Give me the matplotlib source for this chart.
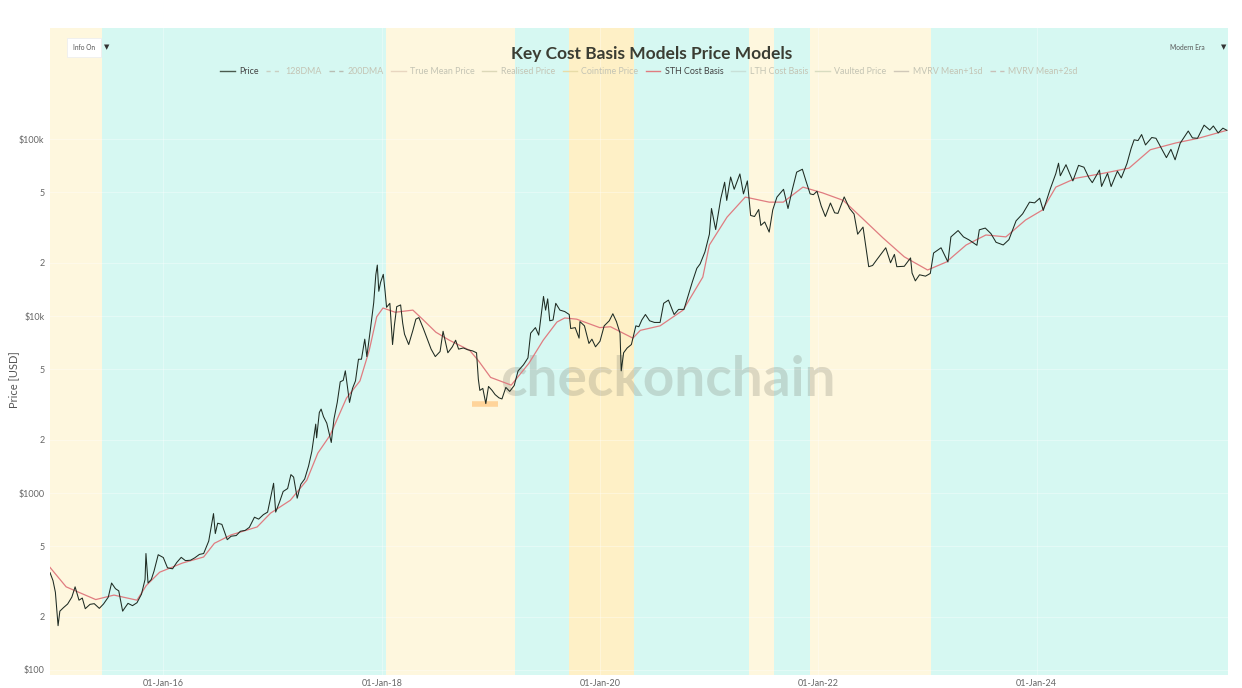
import matplotlib
matplotlib.use('Agg')
import matplotlib.pyplot as plt
import matplotlib.ticker as mticker
from matplotlib.lines import Line2D
import pandas as pd

# ---------------- data ----------------
price_series = [
    ("2014-12-18", 355), ("2014-12-28", 320), ("2015-01-05", 275), ("2015-01-14", 178),
    ("2015-01-20", 215), ("2015-02-01", 225), ("2015-02-15", 236), ("2015-03-01", 258),
    ("2015-03-12", 295), ("2015-03-25", 248), ("2015-04-05", 255), ("2015-04-15", 222),
    ("2015-05-01", 235), ("2015-05-15", 237), ("2015-06-01", 223), ("2015-06-15", 236),
    ("2015-07-01", 258), ("2015-07-12", 310), ("2015-07-25", 288), ("2015-08-05", 280),
    ("2015-08-18", 215), ("2015-08-25", 224), ("2015-09-05", 238), ("2015-09-20", 231),
    ("2015-10-05", 240), ("2015-10-20", 268), ("2015-11-01", 325), ("2015-11-04", 455),
    ("2015-11-11", 310), ("2015-11-22", 325), ("2015-12-01", 362), ("2015-12-15", 448),
    ("2016-01-01", 432), ("2016-01-15", 378), ("2016-02-01", 373), ("2016-02-15", 405),
    ("2016-03-01", 433), ("2016-03-15", 415), ("2016-04-01", 417), ("2016-04-15", 430),
    ("2016-05-01", 450), ("2016-05-15", 455), ("2016-06-01", 535), ("2016-06-17", 765),
    ("2016-06-23", 590), ("2016-07-01", 675), ("2016-07-15", 665), ("2016-08-02", 545),
    ("2016-08-15", 570), ("2016-09-01", 575), ("2016-09-15", 608), ("2016-10-01", 615),
    ("2016-10-15", 640), ("2016-11-01", 730), ("2016-11-15", 712), ("2016-12-01", 755),
    ("2016-12-15", 780), ("2017-01-04", 1135), ("2017-01-11", 780), ("2017-01-25", 900),
    ("2017-02-05", 1020), ("2017-02-20", 1060), ("2017-03-03", 1270), ("2017-03-12", 1230),
    ("2017-03-24", 935), ("2017-04-05", 1120), ("2017-04-18", 1200), ("2017-05-01", 1420),
    ("2017-05-12", 1720), ("2017-05-25", 2450), ("2017-05-28", 2050), ("2017-06-06", 2850),
    ("2017-06-12", 2980), ("2017-06-20", 2700), ("2017-07-01", 2480), ("2017-07-16", 1930),
    ("2017-07-25", 2620), ("2017-08-05", 3250), ("2017-08-15", 4250), ("2017-08-25", 4330),
    ("2017-09-01", 4900), ("2017-09-15", 3250), ("2017-09-25", 3900), ("2017-10-05", 4300),
    ("2017-10-15", 5700), ("2017-10-25", 5700), ("2017-11-05", 7400), ("2017-11-12", 5900),
    ("2017-11-25", 8700), ("2017-12-05", 11900), ("2017-12-12", 17100), ("2017-12-17", 19400),
    ("2017-12-22", 13800), ("2017-12-28", 15500), ("2018-01-06", 17200), ("2018-01-12", 13800),
    ("2018-01-17", 11200), ("2018-01-28", 11800), ("2018-02-06", 6900), ("2018-02-12", 8800),
    ("2018-02-20", 11300), ("2018-03-05", 11550), ("2018-03-12", 9100), ("2018-03-18", 7900),
    ("2018-04-01", 6900), ("2018-04-15", 8300), ("2018-04-25", 9600), ("2018-05-05", 9800),
    ("2018-05-20", 8500), ("2018-06-01", 7500), ("2018-06-15", 6500), ("2018-06-29", 5900),
    ("2018-07-15", 6300), ("2018-07-25", 8200), ("2018-08-10", 6200), ("2018-08-25", 6700),
    ("2018-09-05", 7300), ("2018-09-15", 6500), ("2018-10-01", 6600), ("2018-10-15", 6450),
    ("2018-11-01", 6350), ("2018-11-14", 6200), ("2018-11-20", 4400), ("2018-11-25", 3800),
    ("2018-12-05", 3900), ("2018-12-15", 3200), ("2018-12-24", 4000), ("2019-01-05", 3800),
    ("2019-01-15", 3600), ("2019-01-28", 3450), ("2019-02-07", 3400), ("2019-02-20", 3950),
    ("2019-03-05", 3750), ("2019-03-20", 4050), ("2019-04-02", 4900), ("2019-04-20", 5300),
    ("2019-05-05", 5800), ("2019-05-14", 8000), ("2019-05-30", 8600), ("2019-06-10", 7800),
    ("2019-06-26", 12900), ("2019-07-03", 10800), ("2019-07-10", 12500), ("2019-07-17", 9400),
    ("2019-07-28", 9500), ("2019-08-06", 11800), ("2019-08-20", 10800), ("2019-09-05", 10600),
    ("2019-09-20", 10200), ("2019-09-25", 8500), ("2019-10-10", 8600), ("2019-10-23", 7500),
    ("2019-10-26", 9300), ("2019-11-10", 8800), ("2019-11-25", 7000), ("2019-12-05", 7400),
    ("2019-12-17", 6700), ("2020-01-01", 7200), ("2020-01-15", 8800), ("2020-02-01", 9400),
    ("2020-02-13", 10300), ("2020-02-25", 9300), ("2020-03-08", 8000), ("2020-03-12", 4900),
    ("2020-03-20", 6200), ("2020-04-01", 6600), ("2020-04-15", 6900), ("2020-04-30", 8800),
    ("2020-05-10", 8700), ("2020-05-20", 9500), ("2020-06-01", 10200), ("2020-06-15", 9400),
    ("2020-07-01", 9200), ("2020-07-20", 9200), ("2020-08-01", 11800), ("2020-08-17", 12300),
    ("2020-09-05", 10200), ("2020-09-20", 10900), ("2020-10-08", 10900), ("2020-10-21", 12900),
    ("2020-11-05", 15600), ("2020-11-20", 18600), ("2020-12-01", 19700), ("2020-12-17", 23000),
    ("2021-01-01", 29000), ("2021-01-08", 40500), ("2021-01-22", 30800), ("2021-02-08", 46000),
    ("2021-02-21", 57000), ("2021-02-28", 45000), ("2021-03-13", 61000), ("2021-03-25", 52000),
    ("2021-04-13", 63500), ("2021-04-25", 49000), ("2021-05-08", 58000), ("2021-05-19", 37000),
    ("2021-06-01", 36500), ("2021-06-15", 40000), ("2021-06-22", 32500), ("2021-07-05", 34000),
    ("2021-07-20", 29800), ("2021-08-01", 39800), ("2021-08-15", 47000), ("2021-09-06", 52000),
    ("2021-09-21", 40500), ("2021-10-05", 51500), ("2021-10-20", 65000), ("2021-11-08", 67500),
    ("2021-11-20", 58000), ("2021-12-04", 49000), ("2021-12-15", 48500), ("2021-12-27", 50700),
    ("2022-01-10", 41900), ("2022-01-24", 36500), ("2022-02-10", 43500), ("2022-02-24", 38300),
    ("2022-03-07", 38000), ("2022-03-28", 47100), ("2022-04-15", 40500), ("2022-04-30", 37700),
    ("2022-05-12", 29000), ("2022-05-30", 31800), ("2022-06-18", 19000), ("2022-07-01", 19300),
    ("2022-07-15", 20800), ("2022-08-14", 24300), ("2022-08-30", 20000), ("2022-09-12", 22300),
    ("2022-09-20", 19000), ("2022-10-15", 19100), ("2022-11-05", 21300), ("2022-11-10", 17500),
    ("2022-11-21", 15800), ("2022-12-05", 17100), ("2022-12-25", 16800), ("2023-01-10", 17400),
    ("2023-01-21", 22700), ("2023-02-15", 24300), ("2023-03-10", 20200), ("2023-03-20", 28000),
    ("2023-04-13", 30400), ("2023-05-01", 28000), ("2023-05-20", 26900), ("2023-06-15", 25100),
    ("2023-06-23", 30700), ("2023-07-13", 31400), ("2023-08-01", 29200), ("2023-08-18", 26100),
    ("2023-09-11", 25200), ("2023-09-30", 27000), ("2023-10-24", 34500), ("2023-11-15", 37800),
    ("2023-12-08", 44000), ("2023-12-25", 43600), ("2024-01-11", 46300), ("2024-01-23", 39500),
    ("2024-02-15", 52000), ("2024-03-05", 63800), ("2024-03-14", 73000), ("2024-03-20", 62000),
    ("2024-04-08", 71600), ("2024-04-20", 64000), ("2024-05-01", 58000), ("2024-05-20", 71000),
    ("2024-06-07", 69300), ("2024-06-24", 60300), ("2024-07-05", 56700), ("2024-07-29", 66800),
    ("2024-08-05", 54000), ("2024-08-25", 64000), ("2024-09-06", 53900), ("2024-09-27", 65800),
    ("2024-10-10", 60300), ("2024-10-29", 72700), ("2024-11-12", 88600), ("2024-11-22", 99000),
    ("2024-12-05", 98000), ("2024-12-17", 106000), ("2024-12-30", 92600), ("2025-01-20", 102000),
    ("2025-02-03", 101000), ("2025-02-28", 84300), ("2025-03-10", 78500), ("2025-03-25", 87500),
    ("2025-04-08", 76300), ("2025-04-25", 94700), ("2025-05-22", 111000), ("2025-06-05", 101500),
    ("2025-06-22", 101000), ("2025-07-14", 119800), ("2025-08-02", 112500), ("2025-08-14", 118500),
    ("2025-08-30", 108300), ("2025-09-15", 115200), ("2025-09-28", 112000),
]

sth_series = [
    ("2014-12-18", 380), ("2015-02-10", 295), ("2015-05-20", 250), ("2015-07-20", 265),
    ("2015-10-05", 248), ("2015-11-05", 300), ("2015-12-20", 357), ("2016-03-05", 402),
    ("2016-05-15", 435), ("2016-06-20", 520), ("2016-08-15", 580), ("2016-11-10", 643),
    ("2016-12-25", 770), ("2017-03-01", 910), ("2017-04-25", 1180), ("2017-06-01", 1680),
    ("2017-07-12", 2120), ("2017-09-05", 3440), ("2017-10-20", 4300), ("2017-11-20", 6400),
    ("2017-12-15", 9900), ("2018-01-05", 11100), ("2018-02-15", 10500), ("2018-04-15", 10800),
    ("2018-05-20", 9500), ("2018-07-01", 8100), ("2018-08-15", 7300), ("2018-10-22", 6400),
    ("2018-11-20", 5600), ("2018-12-31", 4500), ("2019-03-10", 4070), ("2019-05-08", 5400),
    ("2019-06-25", 7300), ("2019-08-10", 9250), ("2019-09-05", 9750), ("2019-10-15", 9600),
    ("2019-12-31", 8600), ("2020-02-05", 8700), ("2020-04-20", 7500), ("2020-05-15", 8300),
    ("2020-07-20", 8800), ("2020-10-05", 10800), ("2020-12-10", 16600), ("2021-01-01", 25200),
    ("2021-03-01", 36200), ("2021-05-01", 47000), ("2021-07-20", 44000), ("2021-09-05", 44000),
    ("2021-11-10", 53500), ("2022-01-15", 49600), ("2022-03-25", 45000), ("2022-05-25", 36000),
    ("2022-08-05", 27600), ("2022-10-15", 21600), ("2023-01-01", 18200), ("2023-03-05", 20200),
    ("2023-05-10", 25200), ("2023-07-15", 28700), ("2023-09-20", 28000), ("2023-11-25", 34900),
    ("2024-01-20", 39700), ("2024-03-05", 53500), ("2024-05-10", 60000), ("2024-08-10", 64000),
    ("2024-11-05", 68500), ("2025-01-15", 87000), ("2025-04-10", 95000), ("2025-06-25", 101000),
    ("2025-09-28", 112000),
]

band_edges = ["2014-12-18", "2015-06-10", "2018-01-16", "2019-03-24", "2019-09-20",
              "2020-04-24", "2021-05-14", "2021-08-06", "2021-12-04", "2023-01-13", "2025-10-02"]
band_kinds = ["bear", "bull", "bear", "bull", "deep", "bull", "bear", "bull", "bear", "bull"]

marker_dates = ["2018-10-30", "2019-01-25"]
marker_values = [3200, 3200]

x_tick_dates = ["2016-01-01", "2018-01-01", "2020-01-01", "2022-01-01", "2024-01-01"]
x_tick_labels = ["01-Jan-16", "01-Jan-18", "01-Jan-20", "01-Jan-22", "01-Jan-24"]
y_major = [100, 1000, 10000, 100000]
y_major_labels = ["$100", "$1000", "$10k", "$100k"]
y_minor = [200, 500, 2000, 5000, 20000, 50000]
y_minor_labels = ["2", "5", "2", "5", "2", "5"]

legend_names = ["Price", "128DMA", "200DMA", "True Mean Price", "Realised Price",
                "Cointime Price", "STH Cost Basis", "LTH Cost Basis", "Vaulted Price",
                "MVRV Mean+1sd", "MVRV Mean+2sd"]
legend_active = [True, False, False, False, False, False, True, False, False, False, False]

# ---------------- styles ----------------
band_colors = {"bear": "#FEF7DE", "bull": "#D6F8F2", "deep": "#FEF0C6"}
price_color = "#1E2B22"
sth_color = "#E07C80"
legend_styles = {
    "Price": ("#4a5a4e", "-"), "128DMA": ("#c9cfc2", (0, (3, 3))),
    "200DMA": ("#b8beb4", (0, (4, 3))), "True Mean Price": ("#e8d6c0", "-"),
    "Realised Price": ("#dcd8b8", "-"), "Cointime Price": ("#e8dca8", "-"),
    "STH Cost Basis": (sth_color, "-"), "LTH Cost Basis": ("#c8e0d8", "-"),
    "Vaulted Price": ("#d8dcc0", "-"), "MVRV Mean+1sd": ("#d0c8b8", "-"),
    "MVRV Mean+2sd": ("#c8c0b8", (0, (4, 3))),
}

plt.rcParams['font.family'] = ['Lato', 'DejaVu Sans']

W, H = 1242, 688
fig = plt.figure(figsize=(W / 100, H / 100), dpi=100)
fig.patch.set_facecolor('white')
left, right, top, bottom = 50, 1228, 28, 675
ax = fig.add_axes([left / W, (H - bottom) / H, (right - left) / W, (bottom - top) / H])

pdates = pd.to_datetime([d for d, _ in price_series])
pvals = [v for _, v in price_series]
sdates = pd.to_datetime([d for d, _ in sth_series])
svals = [v for _, v in sth_series]
edges = pd.to_datetime(band_edges)

for i, kind in enumerate(band_kinds):
    ax.axvspan(edges[i], edges[i + 1], color=band_colors[kind], lw=0, zorder=0)

ax.set_yscale('log')
ax.set_ylim(93.7, 424000)
ax.set_xlim(edges[0], edges[-1])

# grid
for v in y_major + y_minor:
    ax.axhline(v, color='white', lw=0.7, alpha=0.35, zorder=1)
for d in pd.to_datetime(x_tick_dates):
    ax.axvline(d, color='white', lw=0.7, alpha=0.35, zorder=1)

ax.text(0.5245, 0.456, "checkonchain", transform=ax.transAxes, ha='center', va='center',
        fontsize=39.5, fontweight='bold', color=(0.45, 0.46, 0.40), alpha=0.24, zorder=2)

ax.plot(pd.to_datetime(marker_dates), marker_values, color='#FFD49A', lw=4,
        solid_capstyle='butt', zorder=3)
ax.plot(sdates, svals, color=sth_color, lw=0.9, zorder=4)
ax.plot(pdates, pvals, color=price_color, lw=0.75, zorder=5)

ax.yaxis.set_major_locator(mticker.FixedLocator(y_major))
ax.yaxis.set_major_formatter(mticker.FixedFormatter(y_major_labels))
ax.yaxis.set_minor_locator(mticker.FixedLocator(y_minor))
ax.yaxis.set_minor_formatter(mticker.FixedFormatter(y_minor_labels))
ax.set_xticks(pd.to_datetime(x_tick_dates))
ax.set_xticklabels(x_tick_labels)
ax.tick_params(axis='both', which='both', length=0, labelsize=6.5, colors='#666666', pad=4)
ax.tick_params(axis='x', pad=3)
for s in ax.spines.values():
    s.set_visible(False)

fig.text(14 / W, 1 - 380 / H, "Price [USD]", rotation=90, ha='center', va='center',
         fontsize=8, color='#555555')

fig.text(652 / W, 1 - 54 / H, "Key Cost Basis Models Price Models", ha='center', va='center',
         fontsize=12.5, fontweight='bold', color='#3b3d33')

handles = []
for name in legend_names:
    c, ls = legend_styles[name]
    handles.append(Line2D([], [], color=c, ls=ls, lw=1.0))
leg = ax.legend(handles, legend_names, loc='center', bbox_to_anchor=(649 / W, 1 - 72 / H),
                bbox_transform=fig.transFigure, ncol=len(legend_names), frameon=False,
                fontsize=6.4, handlelength=1.6, handletextpad=0.5, columnspacing=0.85)
for txt, act in zip(leg.get_texts(), legend_active):
    txt.set_color('#444444' if act else '#c4c4b4')

fig.text(84 / W, 1 - 47 / H, "Info On", ha='center', va='center', fontsize=4.8, color='#555555',
         bbox=dict(facecolor='white', edgecolor='#eeeeee', boxstyle='square,pad=0.9', lw=0.6))
fig.text(107 / W, 1 - 47 / H, "▼", ha='center', va='center', fontsize=5, color='#333333',
         family='DejaVu Sans')
fig.text(1187 / W, 1 - 47 / H, "Modern Era", ha='center', va='center', fontsize=4.8, color='#555555')
fig.text(1224 / W, 1 - 47 / H, "▼", ha='center', va='center', fontsize=5, color='#333333',
         family='DejaVu Sans')

fig.savefig('out.png', dpi=100)
